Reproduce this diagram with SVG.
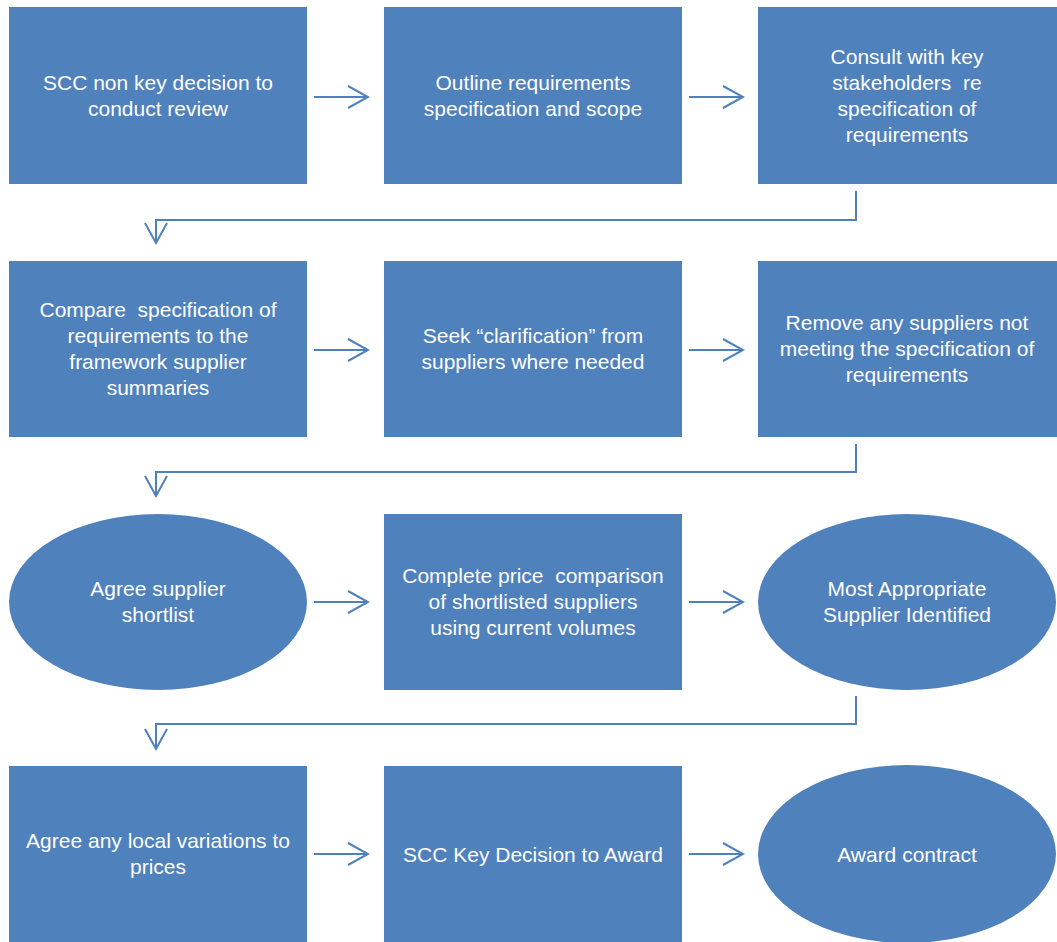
<svg xmlns="http://www.w3.org/2000/svg" width="1057" height="942" viewBox="0 0 1057 942">
<defs>
<style>
.n{fill:#4F81BD;}
.t{fill:#FFFFFF;font-family:"Liberation Sans",Arial,sans-serif;font-size:21px;text-anchor:middle;white-space:pre;}
.c{fill:none;stroke:#4F81BD;stroke-width:2;}
</style>
<marker id="ah" viewBox="0 0 24 24" refX="22" refY="12" markerWidth="24" markerHeight="24" markerUnits="userSpaceOnUse" orient="auto">
<path d="M2,1 L22,12 L2,23" fill="none" stroke="#4F81BD" stroke-width="2"/>
</marker>
</defs>
<rect width="1057" height="942" fill="#FFFFFF"/>
<g id="connectors">
<line class="c" x1="314" y1="97" x2="368" y2="97" marker-end="url(#ah)"/>
<line class="c" x1="689" y1="97" x2="743" y2="97" marker-end="url(#ah)"/>
<polyline class="c" points="856,191 856,220 156,220 156,243" marker-end="url(#ah)"/>
<line class="c" x1="314" y1="350" x2="368" y2="350" marker-end="url(#ah)"/>
<line class="c" x1="689" y1="350" x2="743" y2="350" marker-end="url(#ah)"/>
<polyline class="c" points="856,444 856,472 156,472 156,496" marker-end="url(#ah)"/>
<line class="c" x1="314" y1="602" x2="368" y2="602" marker-end="url(#ah)"/>
<line class="c" x1="689" y1="602" x2="743" y2="602" marker-end="url(#ah)"/>
<polyline class="c" points="856,696 856,724 156,724 156,749" marker-end="url(#ah)"/>
<line class="c" x1="314" y1="854" x2="368" y2="854" marker-end="url(#ah)"/>
<line class="c" x1="689" y1="854" x2="743" y2="854" marker-end="url(#ah)"/>
</g>
<g id="n1"><rect class="n" x="9" y="7" width="298" height="177"/>
<text class="t"><tspan x="158" y="90">SCC non key decision to</tspan><tspan x="158" y="116">conduct review</tspan></text></g>
<g id="n2"><rect class="n" x="384" y="7" width="298" height="177"/>
<text class="t"><tspan x="533" y="90">Outline requirements</tspan><tspan x="533" y="116">specification and scope</tspan></text></g>
<g id="n3"><rect class="n" x="758" y="7" width="299" height="177"/>
<text class="t"><tspan x="907" y="64">Consult with key</tspan><tspan x="907" y="90">stakeholders  re</tspan><tspan x="907" y="116">specification of</tspan><tspan x="907" y="142">requirements</tspan></text></g>
<g id="n4"><rect class="n" x="9" y="261" width="298" height="176"/>
<text class="t"><tspan x="158" y="317">Compare  specification of</tspan><tspan x="158" y="343">requirements to the</tspan><tspan x="158" y="369">framework supplier</tspan><tspan x="158" y="395">summaries</tspan></text></g>
<g id="n5"><rect class="n" x="384" y="261" width="298" height="176"/>
<text class="t"><tspan x="533" y="343">Seek “clarification” from</tspan><tspan x="533" y="369">suppliers where needed</tspan></text></g>
<g id="n6"><rect class="n" x="758" y="261" width="299" height="176"/>
<text class="t"><tspan x="907" y="330">Remove any suppliers not</tspan><tspan x="907" y="356">meeting the specification of</tspan><tspan x="907" y="382">requirements</tspan></text></g>
<g id="n7"><ellipse class="n" cx="158" cy="602" rx="149" ry="88"/>
<text class="t"><tspan x="158" y="596">Agree supplier</tspan><tspan x="158" y="622">shortlist</tspan></text></g>
<g id="n8"><rect class="n" x="384" y="514" width="298" height="176"/>
<text class="t"><tspan x="533" y="583">Complete price  comparison</tspan><tspan x="533" y="609">of shortlisted suppliers</tspan><tspan x="533" y="635">using current volumes</tspan></text></g>
<g id="n9"><ellipse class="n" cx="907" cy="602" rx="149" ry="88"/>
<text class="t"><tspan x="907" y="596">Most Appropriate</tspan><tspan x="907" y="622">Supplier Identified</tspan></text></g>
<g id="n10"><rect class="n" x="9" y="766" width="298" height="176"/>
<text class="t"><tspan x="158" y="848">Agree any local variations to</tspan><tspan x="158" y="874">prices</tspan></text></g>
<g id="n11"><rect class="n" x="384" y="766" width="298" height="176"/>
<text class="t"><tspan x="533" y="862">SCC Key Decision to Award</tspan></text></g>
<g id="n12"><ellipse class="n" cx="907" cy="854" rx="149" ry="89"/>
<text class="t"><tspan x="907" y="862">Award contract</tspan></text></g>
</svg>
